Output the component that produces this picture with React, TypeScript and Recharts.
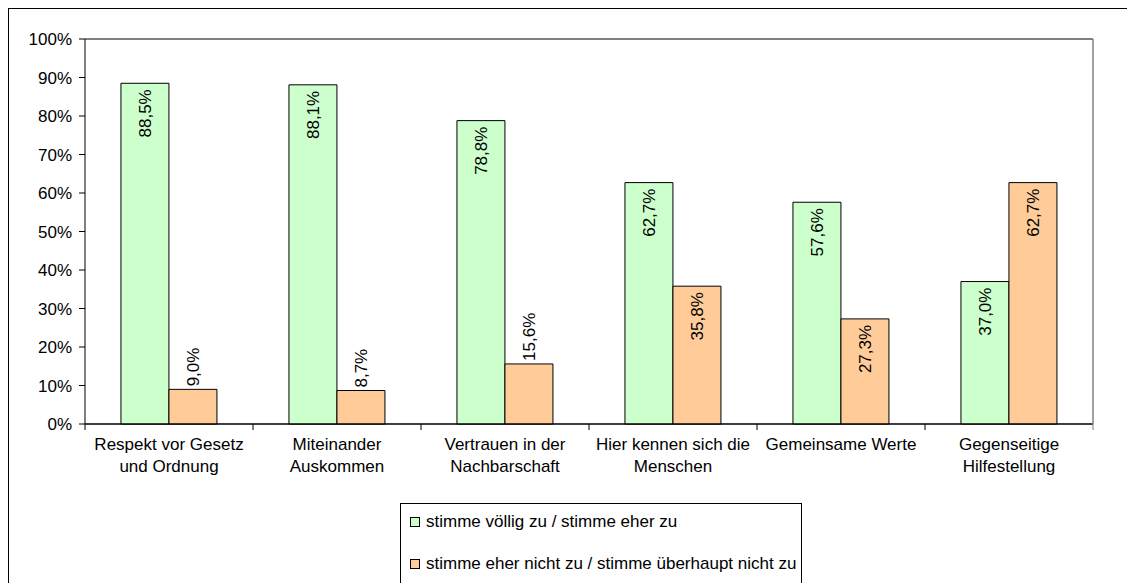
import { BarChart, Bar, XAxis, YAxis, CartesianGrid, LabelList } from "recharts";

const categories = [
  ["Respekt vor Gesetz", "und Ordnung"],
  ["Miteinander", "Auskommen"],
  ["Vertrauen in der", "Nachbarschaft"],
  ["Hier kennen sich die", "Menschen"],
  ["Gemeinsame Werte"],
  ["Gegenseitige", "Hilfestellung"],
];
const agree = [88.5, 88.1, 78.8, 62.7, 57.6, 37.0];
const disagree = [9.0, 8.7, 15.6, 35.8, 27.3, 62.7];
const yTicks = [0, 10, 20, 30, 40, 50, 60, 70, 80, 90, 100];

const seriesNames = [
  "stimme völlig zu / stimme eher zu",
  "stimme eher nicht zu / stimme überhaupt nicht zu",
];
const seriesColors = ["#CCFFCC", "#FFCC99"];

const data = categories.map((c, i) => ({
  name: c.join(" "),
  lines: c,
  agree: agree[i],
  disagree: disagree[i],
}));

const FONT = "'Liberation Sans', Arial, sans-serif";
const FS = 17;
const W = 1126;
const H = 580;
const margin = { top: 30, right: 41, left: 6, bottom: 105 };
const Y_W = 70;
const band = (W - margin.left - margin.right - Y_W - 1) / categories.length;

function fmt(v: number) {
  return v.toFixed(1).replace(".", ",") + "%";
}

function BarLabel(props: any) {
  const { x, y, width, value } = props;
  const cx = x + width / 2 + 6;
  const inside = value > 20;
  const ty = inside ? y + 6 : y - 3;
  return (
    <text
      x={cx}
      y={ty}
      transform={`rotate(-90 ${cx} ${ty})`}
      textAnchor={inside ? "end" : "start"}
      fontSize={FS}
      fontFamily={FONT}
      fill="#000"
    >
      {fmt(value)}
    </text>
  );
}

function CatTick(props: any) {
  const { x, y, index, payload } = props;
  const lines: string[] = data[index]?.lines ?? [payload.value];
  const left = x - band / 2;
  return (
    <g>
      <line x1={left} y1={y} x2={left} y2={y + 6} stroke="#000" />
      {index === categories.length - 1 && (
        <line x1={x + band / 2} y1={y} x2={x + band / 2} y2={y + 6} stroke="#808080" />
      )}
      {lines.map((l, i) => (
        <text
          key={i}
          x={x}
          y={y + 26 + i * 22}
          textAnchor="middle"
          fontSize={FS}
          fontFamily={FONT}
          fill="#000"
        >
          {l}
        </text>
      ))}
    </g>
  );
}

export default function App() {
  return (
    <div
      style={{
        position: "relative",
        width: 1140,
        height: 600,
        border: "1px solid #000",
        boxSizing: "border-box",
        background: "#fff",
      }}
    >
      <style>{`body{overflow:hidden}`}</style>
      <BarChart
        width={W}
        height={H}
        data={data}
        margin={margin}
        barCategoryGap="21.4%"
        barGap={0}
      >
        <CartesianGrid stroke="#000" vertical={false} />
        <XAxis
          dataKey="name"
          interval={0}
          height={60}
          tickSize={0}
          tickMargin={0}
          tickLine={false}
          axisLine={{ stroke: "#000" }}
          tick={<CatTick />}
        />
        <YAxis
          yAxisId="l"
          domain={[0, 100]}
          ticks={yTicks}
          tickFormatter={(v) => `${v}%`}
          width={Y_W}
          tickSize={6}
          tickMargin={7}
          axisLine={{ stroke: "#000" }}
          tickLine={{ stroke: "#000" }}
          tick={{ fontSize: FS, fontFamily: FONT, fill: "#000" }}
        />
        <YAxis
          yAxisId="r"
          orientation="right"
          domain={[0, 100]}
          width={1}
          tick={false}
          tickLine={false}
          axisLine={{ stroke: "#808080", strokeWidth: 1.5 }}
        />
        <Bar
          yAxisId="l"
          dataKey="agree"
          fill={seriesColors[0]}
          stroke="#000"
          strokeWidth={1}
          isAnimationActive={false}
        >
          <LabelList dataKey="agree" content={<BarLabel />} />
        </Bar>
        <Bar
          yAxisId="l"
          dataKey="disagree"
          fill={seriesColors[1]}
          stroke="#000"
          strokeWidth={1}
          isAnimationActive={false}
        >
          <LabelList dataKey="disagree" content={<BarLabel />} />
        </Bar>
      </BarChart>
      <div
        style={{
          position: "absolute",
          left: 391,
          top: 494,
          width: 402,
          height: 100,
          border: "1px solid #000",
          boxSizing: "border-box",
          fontFamily: FONT,
          fontSize: FS,
          lineHeight: "20px",
        }}
      >
        {seriesNames.map((n, i) => (
          <div
            key={n}
            style={{
              position: "absolute",
              left: 9,
              top: 8 + i * 42,
              display: "flex",
              alignItems: "center",
              whiteSpace: "nowrap",
            }}
          >
            <span
              style={{
                display: "inline-block",
                width: 8,
                height: 8,
                border: "1px solid #000",
                background: seriesColors[i],
                marginRight: 6,
              }}
            />
            {n}
          </div>
        ))}
      </div>
    </div>
  );
}
